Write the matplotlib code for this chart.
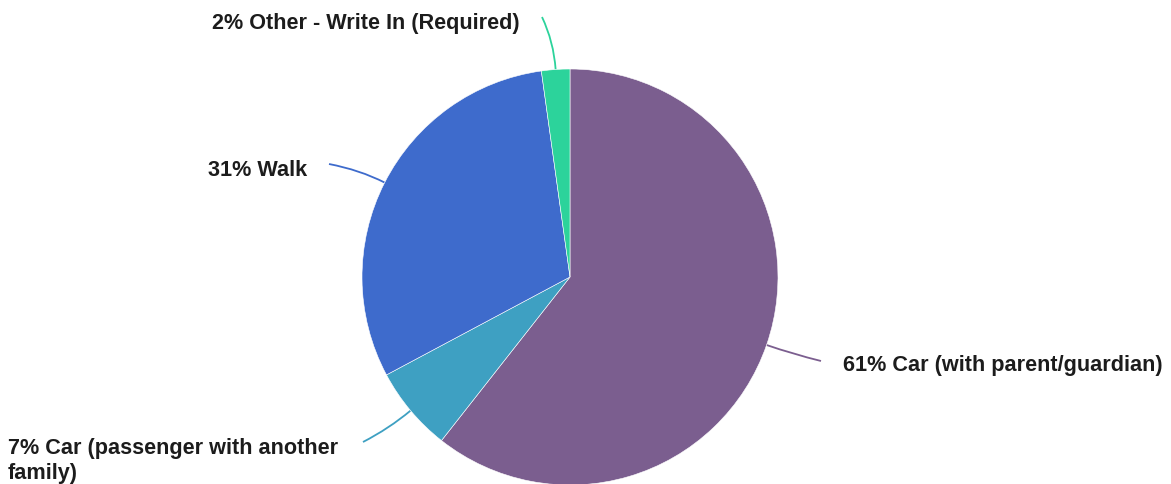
import numpy as np
import matplotlib
matplotlib.use("Agg")
import matplotlib.pyplot as plt
from matplotlib.path import Path
from matplotlib.patches import PathPatch

# Survey: how students get to school (percent of responses)
categories = [
    "Car (with parent/guardian)",
    "Car (passenger with another\nfamily)",
    "Walk",
    "Other - Write In (Required)",
]
values = [60.6, 6.6, 30.6, 2.2]
colors = ["#7b5e8f", "#3ea0c2", "#3e6bcc", "#2cd39b"]

W, H = 1171, 485
fig = plt.figure(figsize=(W / 100, H / 100), dpi=100)
ax = fig.add_axes([0, 0, 1, 1])

cx, cy, r = 570, H - 278, 208

wedges, _ = ax.pie(
    values, colors=colors, startangle=90, counterclock=False,
    center=(cx, cy), radius=r, frame=True,
    wedgeprops=dict(edgecolor="white", linewidth=0.4),
)
ax.set_xlim(0, W)
ax.set_ylim(0, H)
ax.set_aspect("equal")
ax.axis("off")

# label anchors (pixel coords from top-left)
label_layout = [
    dict(x=843, y=366, ha="left"),
    dict(x=8, y=438, ha="left", va="top", join=(363, 443)),
    dict(x=307, y=171, ha="right"),
    dict(x=520, y=24, ha="right"),
]

font = dict(family=["Liberation Sans", "DejaVu Sans"], fontsize=15.6,
            fontweight="bold", color="#1c1c1c")
gap = 22
total = sum(values)

for w, v, cat, col, lay in zip(wedges, values, categories, colors, label_layout):
    pct = round(100 * v / total)
    text = f"{pct}% {cat}"
    va = lay.get("va", "center")
    ax.text(lay["x"], H - lay["y"], text, ha=lay["ha"], va=va,
            linespacing=1.28, **font)

    mid = np.deg2rad((w.theta1 + w.theta2) / 2)
    ux, uy = np.cos(mid), np.sin(mid)
    p0 = (cx + r * ux, cy + r * uy)
    if "join" in lay:
        ex, ey = lay["join"]
    elif lay["ha"] == "left":
        ex, ey = lay["x"] - gap, lay["y"] - 4
    else:
        ex, ey = lay["x"] + gap, lay["y"] - 6
    p2 = (ex, H - ey)
    p1 = (cx + (r + 28) * ux, cy + (r + 28) * uy)
    path = Path([p0, p1, p2], [Path.MOVETO, Path.CURVE3, Path.CURVE3])
    ax.add_patch(PathPatch(path, fill=False, edgecolor=col, linewidth=1.3,
                           zorder=0))

fig.savefig("out.png", dpi=100, facecolor="white")
